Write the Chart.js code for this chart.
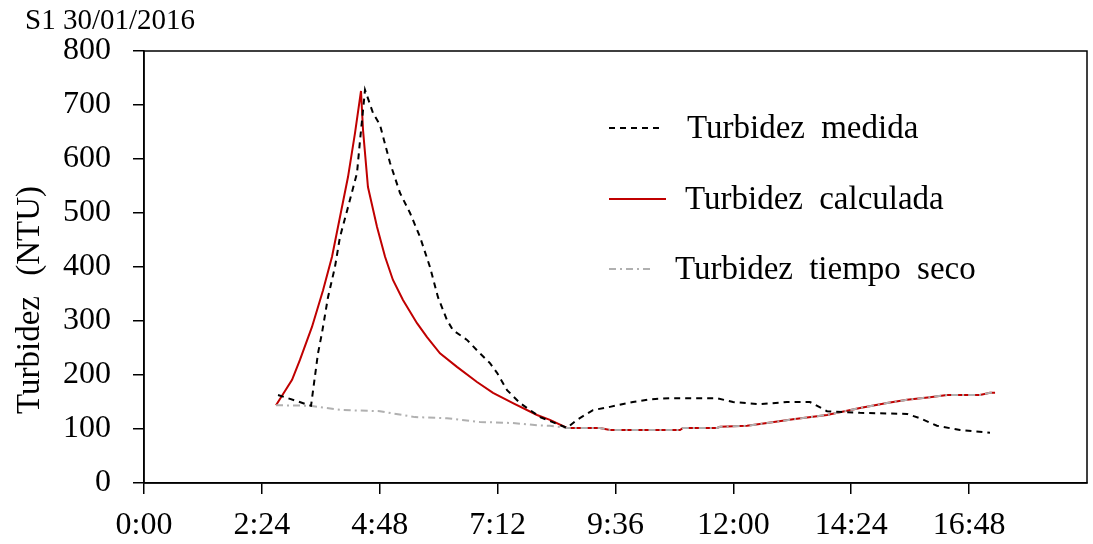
<!DOCTYPE html>
<html>
<head>
<meta charset="utf-8">
<script src="https://cdn.jsdelivr.net/npm/chart.js@4.4.0/dist/chart.umd.min.js"></script>
<style>
  html, body { margin: 0; padding: 0; background: #fff; }
  #wrap { width: 1093px; height: 544px; }
</style>
</head>
<body>
<div id="wrap"><canvas id="chart" width="1093" height="544"></canvas></div>
<script>
// times are fractions of a day (0.1 = 2:24)
var medidaT = [0.1137, 0.1417, 0.1476, 0.151, 0.1561, 0.162, 0.1663, 0.1731, 0.1807, 0.1833, 0.1858, 0.1875,
  0.1943, 0.2002, 0.2087, 0.2172, 0.2257, 0.2341, 0.2426, 0.2494, 0.257, 0.2621, 0.274, 0.285, 0.2935, 0.2995,
  0.308, 0.319, 0.336, 0.3589, 0.3673, 0.3809, 0.3953, 0.4148, 0.4293, 0.4462, 0.4717, 0.4861, 0.4997, 0.5226,
  0.5455, 0.565, 0.5794, 0.6074, 0.6473, 0.6583, 0.6727, 0.6923, 0.7177];
var medidaV = [163, 143, 240, 278, 344, 400, 456, 511, 574, 635, 690, 728,
  685, 663, 593, 537, 500, 456, 400, 344, 302, 283, 265, 240, 222, 204,
  172, 148, 122, 102, 117, 135, 141, 150, 155, 157, 157, 157, 150, 146,
  150, 150, 133, 130, 128, 120, 106, 98, 93];

var calcT = [0.112, 0.1256, 0.1323, 0.1425, 0.1519, 0.1595, 0.1663, 0.1731, 0.179, 0.1841, 0.1858, 0.19,
  0.1977, 0.2045, 0.2112, 0.2197, 0.2316, 0.2401, 0.2511, 0.2655, 0.2825, 0.2961, 0.313, 0.3334, 0.3444,
  0.3589, 0.3868, 0.3953, 0.4547, 0.4573, 0.4861, 0.4887, 0.5116, 0.5285, 0.5506, 0.5794, 0.6074, 0.6303,
  0.6473, 0.6668, 0.6812, 0.7092, 0.7177, 0.722];
var calcV = [144, 191, 228, 289, 357, 419, 493, 567, 648, 726, 654, 548,
  474, 419, 376, 339, 296, 270, 240, 215, 187, 167, 148, 126, 117,
  102, 102, 98, 98, 102, 102, 104, 106, 111, 118, 126, 139, 148,
  154, 159, 163, 163, 167, 167];

var secoT = [0.112, 0.1408, 0.1688, 0.2002, 0.2299, 0.257, 0.285, 0.313, 0.3334, 0.3444,
  0.3589, 0.3868, 0.3953, 0.4547, 0.4573, 0.4861, 0.4887, 0.5116, 0.5285, 0.5506, 0.5794, 0.6074, 0.6303,
  0.6473, 0.6668, 0.6812, 0.7092, 0.7177, 0.722];
var secoV = [144, 143, 135, 133, 122, 120, 113, 111, 107, 106,
  102, 102, 98, 98, 102, 102, 104, 106, 111, 118, 126, 139, 148,
  154, 159, 163, 163, 167, 167];

var seriesNames = ['Turbidez medida', 'Turbidez calculada', 'Turbidez tiempo seco'];
var chartTitle = 'S1 30/01/2016';
var yTitle = 'Turbidez (NTU)';

function pts(t, v) {
  return t.map(function(x, i) { return { x: x, y: v[i] }; });
}

function clock(d) {
  var m = Math.round(d * 1440);
  var h = Math.floor(m / 60);
  var mm = m % 60;
  return h + ':' + (mm < 10 ? '0' : '') + mm;
}

var serif = "'Liberation Serif', 'Times New Roman', serif";

var extras = {
  id: 'extras',
  afterDraw: function(chart) {
    var ctx = chart.ctx;
    var a = chart.chartArea;
    ctx.save();
    // frame
    ctx.strokeStyle = '#000';
    ctx.lineWidth = 1.5;
    ctx.strokeRect(a.left, a.top, a.right - a.left, a.bottom - a.top);
    // title
    ctx.fillStyle = '#000';
    ctx.font = '29px ' + serif;
    ctx.textBaseline = 'alphabetic';
    ctx.textAlign = 'left';
    ctx.fillText(chartTitle, 25, 29);
    // y axis title
    ctx.save();
    ctx.translate(30, 300);
    ctx.rotate(-Math.PI / 2);
    ctx.font = '33px ' + serif;
    ctx.textAlign = 'center';
    ctx.textBaseline = 'middle';
    ctx.wordSpacing = '12px';
    ctx.fillText(yTitle, 0, 0);
    ctx.restore();
    // legend
    var rows = [
      { y: 128, x0: 609, x1: 661, tx: 687 },
      { y: 199, x0: 609, x1: 666, tx: 685 },
      { y: 269, x0: 609, x1: 652, tx: 675 }
    ];
    ctx.font = '33px ' + serif;
    ctx.wordSpacing = '8px';
    ctx.textBaseline = 'middle';
    chart.data.datasets.forEach(function(ds, i) {
      var r = rows[i];
      ctx.beginPath();
      ctx.setLineDash(ds.borderDash || []);
      ctx.strokeStyle = ds.borderColor;
      ctx.lineWidth = ds.borderWidth;
      ctx.moveTo(r.x0, r.y);
      ctx.lineTo(r.x1, r.y);
      ctx.stroke();
      ctx.setLineDash([]);
      ctx.fillStyle = '#000';
      ctx.fillText(ds.label, r.tx, r.y + 1);
    });
    ctx.wordSpacing = '0px';
    ctx.restore();
  }
};

new Chart(document.getElementById('chart'), {
  type: 'line',
  data: {
    datasets: [{
      label: seriesNames[0],
      data: pts(medidaT, medidaV),
      borderColor: '#000',
      borderWidth: 2,
      borderDash: [6, 5],
      pointRadius: 0,
      fill: false,
      order: 0
    }, {
      label: seriesNames[1],
      data: pts(calcT, calcV),
      borderColor: '#c00000',
      borderWidth: 2,
      pointRadius: 0,
      fill: false,
      order: 2
    }, {
      label: seriesNames[2],
      data: pts(secoT, secoV),
      borderColor: '#b0b0b0',
      borderWidth: 2,
      borderDash: [7, 4, 2, 4],
      pointRadius: 0,
      fill: false,
      order: 1
    }]
  },
  options: {
    responsive: false,
    animation: false,
    layout: { padding: { top: 51, right: 6, left: 0, bottom: 0 } },
    plugins: {
      legend: { display: false },
      tooltip: { enabled: false }
    },
    scales: {
      x: {
        type: 'linear',
        min: 0,
        max: 0.8,
        ticks: {
          stepSize: 0.1,
          color: '#000',
          font: { family: serif, size: 32 },
          padding: 12,
          maxRotation: 0,
          autoSkip: false,
          callback: function(v) { return v >= 0.79 ? '' : clock(v); }
        },
        grid: {
          drawOnChartArea: false,
          tickLength: 11,
          color: function(c) { return (c.tick && c.tick.value >= 0.79) ? 'rgba(0,0,0,0)' : '#000'; },
          lineWidth: 1.5
        },
        border: { color: '#000', width: 1.5 },
        afterFit: function(s) {
          s.height = 61;
          s.paddingLeft = 0;
          s.paddingRight = 0;
        }
      },
      y: {
        min: 0,
        max: 800,
        ticks: {
          stepSize: 100,
          color: '#000',
          font: { family: serif, size: 32 },
          padding: 22
        },
        grid: {
          drawOnChartArea: false,
          tickLength: 11,
          color: '#000',
          lineWidth: 1.5
        },
        border: { color: '#000', width: 1.5 },
        afterFit: function(s) {
          s.width = 144;
          s.paddingTop = 0;
          s.paddingBottom = 0;
        }
      }
    }
  },
  plugins: [extras]
});
</script>
</body>
</html>
